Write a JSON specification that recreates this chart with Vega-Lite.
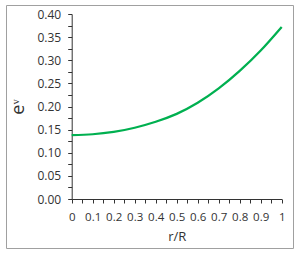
{
  "$schema": "https://vega.github.io/schema/vega-lite/v6.json",
  "width": 287,
  "height": 243,
  "autosize": {"type": "none"},
  "padding": {"left": 6, "top": 5, "right": 7, "bottom": 15},
  "background": "white",
  "config": {
    "view": {"stroke": "#a0a0a0", "strokeWidth": 1},
    "font": "Open Sans"
  },
  "data": {
    "values": [
      {"r": 0.0, "e": 0.138},
      {"r": 0.1, "e": 0.140},
      {"r": 0.2, "e": 0.145},
      {"r": 0.3, "e": 0.154},
      {"r": 0.4, "e": 0.167},
      {"r": 0.5, "e": 0.184},
      {"r": 0.6, "e": 0.208},
      {"r": 0.7, "e": 0.239},
      {"r": 0.8, "e": 0.277},
      {"r": 0.9, "e": 0.321},
      {"r": 1.0, "e": 0.372}
    ]
  },
  "mark": {"type": "line", "color": "#00b050", "strokeWidth": 2.25, "interpolate": "natural"},
  "encoding": {
    "x": {
      "field": "r",
      "type": "quantitative",
      "scale": {"domain": [0, 1], "range": [65.7, 275.7], "nice": false},
      "axis": {
        "title": "r/R",
        "orient": "bottom",
        "offset": -49,
        "values": [0, 0.05, 0.1, 0.15, 0.2, 0.25, 0.3, 0.35, 0.4, 0.45, 0.5, 0.55, 0.6, 0.65, 0.7, 0.75, 0.8, 0.85, 0.9, 0.95, 1],
        "labelExpr": "round(datum.value*100) % 10 == 0 ? (datum.value == 0 || datum.value == 1 ? format(datum.value, 'd') : format(datum.value, '.1f')) : ''",
        "labelOverlap": false,
        "labelFlush": false,
        "labelFontSize": 11.5,
        "labelColor": "#333333",
        "labelPadding": 8,
        "tickSize": 4,
        "tickColor": "#333333",
        "domainColor": "#333333",
        "grid": false,
        "titleFontSize": 13,
        "titleFontWeight": "normal",
        "titleColor": "#333333",
        "titlePadding": 8
      }
    },
    "y": {
      "field": "e",
      "type": "quantitative",
      "scale": {"domain": [0, 0.4], "range": [194, 9], "nice": false},
      "axis": {
        "title": "eᵛ",
        "orient": "left",
        "offset": -65.7,
        "values": [0, 0.025, 0.05, 0.075, 0.1, 0.125, 0.15, 0.175, 0.2, 0.225, 0.25, 0.275, 0.3, 0.325, 0.35, 0.375, 0.4],
        "labelExpr": "round(datum.value*1000) % 50 == 0 ? format(datum.value, '.2f') : ''",
        "labelOverlap": false,
        "labelFlush": false,
        "labelFontSize": 12,
        "labelColor": "#333333",
        "labelPadding": 7,
        "tickSize": 4,
        "tickColor": "#333333",
        "domainColor": "#333333",
        "grid": false,
        "titleFontSize": 18,
        "titleFontWeight": "normal",
        "titleColor": "#333333",
        "titlePadding": 9
      }
    }
  }
}
